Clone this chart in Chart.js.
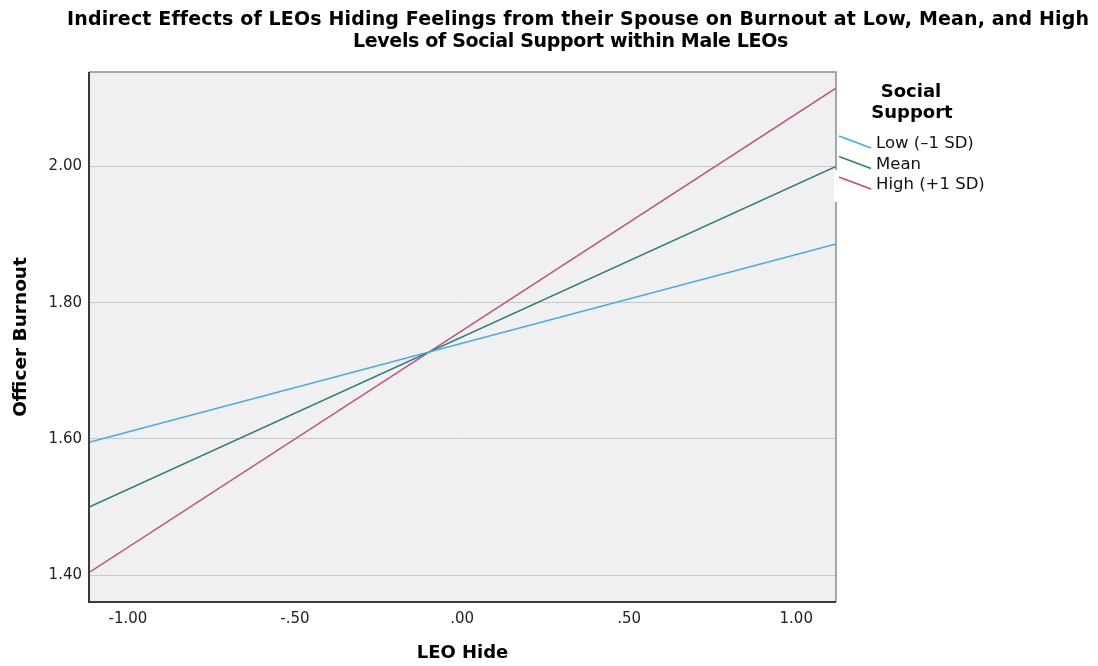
<!DOCTYPE html>
<html>
<head>
<meta charset="utf-8">
<script src="https://cdn.jsdelivr.net/npm/chart.js@4/dist/chart.umd.min.js"></script>
<style>
  html, body { margin: 0; padding: 0; background: #ffffff; }
  #wrap { width: 1098px; height: 666px; position: relative; }
</style>
</head>
<body>
<div id="wrap"><canvas id="effectsChart"></canvas></div>
<script>
// values
const hideRange = [-1.116, 1.119];
const lowSupport = [1.595, 1.886];
const meanSupport = [1.500, 2.000];
const highSupport = [1.404, 2.115];
const groupLabels = ['Low (\u20131 SD)', 'Mean', 'High (+1 SD)'];
const groupColors = ['#4aa8e8', '#2c7d78', '#c04a78'];
const xTicks = [-1, -0.5, 0, 0.5, 1];
const yTicks = [1.4, 1.6, 1.8, 2.0];
const titleLines = [
    'Indirect Effects of LEOs Hiding Feelings from their Spouse on Burnout at Low, Mean, and High',
    'Levels of Social Support within Male LEOs'
];
const legendTitle = ['Social', 'Support'];

function toPoints(ys) {
    return hideRange.map((x, i) => ({ x: x, y: ys[i] }));
}

function fmtX(v) {
    let s = Math.abs(v).toFixed(2);
    if (Math.abs(v) < 1) s = s.slice(1);
    return (v < 0 ? '-' : '') + s;
}

// draw text stretched to a given width (the original font is a bit wider than DejaVu)
function fitText(ctx, text, x, y, width) {
    ctx.letterSpacing = '0px';
    const w = ctx.measureText(text).width;
    ctx.letterSpacing = ((width - w) / text.length).toFixed(3) + 'px';
    ctx.fillText(text, x, y);
    ctx.letterSpacing = '0px';
}

// background, frame, title and the slanted-line legend
const decorPlugin = {
    id: 'decor',
    beforeDraw(chart) {
        const { ctx, chartArea: a } = chart;
        ctx.save();
        ctx.fillStyle = '#f0f0f0';
        ctx.fillRect(a.left, a.top, a.right - a.left, a.bottom - a.top);
        ctx.restore();
    },
    afterDraw(chart) {
        const { ctx, chartArea: a } = chart;
        ctx.save();
        // frame
        ctx.lineWidth = 1.5;
        ctx.strokeStyle = '#8c8c8c';
        ctx.beginPath();
        ctx.moveTo(a.left, a.top);
        ctx.lineTo(a.right, a.top);
        ctx.lineTo(a.right, a.bottom);
        ctx.stroke();
        ctx.lineWidth = 2;
        ctx.strokeStyle = '#3a3a3a';
        ctx.beginPath();
        ctx.moveTo(a.left, a.top);
        ctx.lineTo(a.left, a.bottom);
        ctx.lineTo(a.right, a.bottom);
        ctx.stroke();

        // legend box hides a bit of the frame
        ctx.fillStyle = '#ffffff';
        ctx.fillRect(a.right - 2, 170, 6, 32);

        // title
        ctx.fillStyle = '#000000';
        ctx.textAlign = 'left';
        ctx.textBaseline = 'alphabetic';
        ctx.font = 'bold 19px "DejaVu Sans", sans-serif';
        fitText(ctx, titleLines[0], 67, 25, 1021);
        fitText(ctx, titleLines[1], 353, 47, 435);

        // legend
        ctx.textAlign = 'center';
        ctx.textBaseline = 'middle';
        ctx.font = 'bold 18px "DejaVu Sans", sans-serif';
        ctx.fillText(legendTitle[0], 911, 92);
        ctx.fillText(legendTitle[1], 912, 113);
        ctx.font = '16.5px "DejaVu Sans", sans-serif';
        ctx.textAlign = 'left';
        chart.data.datasets.forEach((ds, i) => {
            const yc = 144 + i * 20.5;
            ctx.strokeStyle = ds.borderColor;
            ctx.lineWidth = 1.5;
            ctx.beginPath();
            ctx.moveTo(839, yc - 8);
            ctx.lineTo(871, yc + 4);
            ctx.stroke();
            ctx.fillStyle = '#111111';
            ctx.fillText(ds.label, 876, yc);
        });
        ctx.restore();
    }
};

const ctx = document.getElementById('effectsChart');
new Chart(ctx, {
    type: 'line',
    data: {
        datasets: [
            { label: groupLabels[0], data: toPoints(lowSupport), borderColor: groupColors[0] },
            { label: groupLabels[1], data: toPoints(meanSupport), borderColor: groupColors[1] },
            { label: groupLabels[2], data: toPoints(highSupport), borderColor: groupColors[2] }
        ]
    },
    options: {
        responsive: true,
        maintainAspectRatio: false,
        animation: false,
        events: [],
        elements: {
            line: { borderWidth: 1.5, tension: 0, fill: false },
            point: { radius: 0 }
        },
        layout: { padding: { top: 72, right: 262, left: 0, bottom: 0 } },
        plugins: {
            legend: { display: false },
            title: { display: false },
            tooltip: { enabled: false }
        },
        scales: {
            x: {
                type: 'linear',
                min: -1.1164,
                max: 1.119,
                afterBuildTicks: scale => { scale.ticks = xTicks.map(v => ({ value: v })); },
                afterFit: scale => { scale.height = 64; },
                grid: { display: false, drawTicks: false },
                border: { display: false },
                ticks: {
                    padding: 8,
                    color: '#222222',
                    font: { family: '"DejaVu Sans", sans-serif', size: 15 },
                    maxRotation: 0,
                    callback: v => fmtX(v)
                },
                title: {
                    display: true,
                    text: 'LEO Hide',
                    color: '#000000',
                    padding: { bottom: 2, top: 0 },
                    font: { family: '"DejaVu Sans", sans-serif', size: 18, weight: 'bold' }
                }
            },
            y: {
                min: 1.3606,
                max: 2.1386,
                afterBuildTicks: scale => { scale.ticks = yTicks.map(v => ({ value: v })); },
                afterFit: scale => { scale.width = 89; },
                grid: { color: '#c8c8c8', lineWidth: 1, drawTicks: false },
                border: { display: false },
                ticks: {
                    padding: 7,
                    color: '#222222',
                    font: { family: '"DejaVu Sans", sans-serif', size: 15 },
                    callback: v => v.toFixed(2)
                },
                title: {
                    display: true,
                    text: 'Officer Burnout',
                    color: '#000000',
                    padding: { top: 10, bottom: 0 },
                    font: { family: '"DejaVu Sans", sans-serif', size: 18.5, weight: 'bold' }
                }
            }
        }
    },
    plugins: [decorPlugin]
});
</script>
</body>
</html>
